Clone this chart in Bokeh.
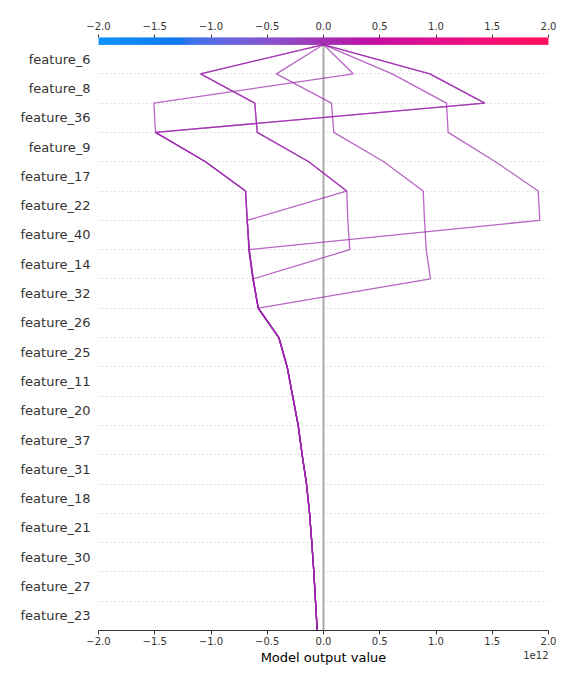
import numpy as np
from bokeh.plotting import figure
from bokeh.layouts import column
from bokeh.models import Range1d, LinearAxis, FixedTicker, CustomJSTickFormatter
from bokeh.core.properties import value
from bokeh.embed import file_html
from bokeh.resources import INLINE

# ---------------- data ----------------
# features, top to bottom
features = ["feature_6", "feature_8", "feature_36", "feature_9", "feature_17",
            "feature_22", "feature_40", "feature_14", "feature_32", "feature_26",
            "feature_25", "feature_11", "feature_20", "feature_37", "feature_31",
            "feature_18", "feature_21", "feature_30", "feature_27", "feature_23"]

base_value = 0.0
x_ticks = [-2.0, -1.5, -1.0, -0.5, 0.0, 0.5, 1.0, 1.5, 2.0]
color_min, color_max = -2.0, 2.0
scale_label = "1e12"
x_label = "Model output value"

# cumulative model output (x1e12) at each row boundary, from the bottom up.
# all observations share the lower part of the path
shared_path = [-0.056, -0.071, -0.086, -0.104, -0.124, -0.151,
               -0.190, -0.225, -0.274, -0.323, -0.397, -0.580]
# upper part (boundary above feature_32 ... top) for each observation
obs_a = [0.951, 0.913, 0.898, 0.886, 0.536, 0.092, 0.071, -0.418, 0.0]
obs_b = [-0.628, -0.664, 1.923, 1.908, 1.529, 1.108, 1.093, 0.611, 0.0]
obs_c = [-0.628, -0.664, -0.678, 0.204, -0.131, -0.589, -0.611, -1.093, 0.0]
obs_d = [-0.625, 0.234, 0.216, 0.207, -0.131, -0.589, -0.611, -1.093, 0.0]
obs_e = [-0.625, -0.660, -0.678, -0.693, -1.049, -1.493, -1.508, 0.264, 0.0]
obs_f = [-0.625, -0.660, -0.678, -0.693, -1.049, -1.493, 1.434, 0.945, 0.0]
obs_g = [-0.625, -0.660, -0.678, -0.693, -1.049, -1.493, 1.434, 0.945, 0.0]
observations = [obs_a, obs_b, obs_c, obs_d, obs_e, obs_f, obs_g]

# ---------------- shap red_blue colormap ----------------
def lch_to_rgb(l, c, h):
    a = c * np.cos(h)
    b = c * np.sin(h)
    fy = (l + 16.0) / 116.0
    fx = a / 500.0 + fy
    fz = fy - b / 200.0
    fz = max(fz, 0.0)
    out = np.array([fx, fy, fz])
    mask = out > 0.2068966
    out = np.where(mask, out ** 3, (out - 16.0 / 116.0) / 7.787)
    out = out * np.array([0.95047, 1.0, 1.08883])
    xyz_from_rgb = np.array([[0.412453, 0.357580, 0.180423],
                             [0.212671, 0.715160, 0.072169],
                             [0.019334, 0.119193, 0.950227]])
    rgb = np.linalg.inv(xyz_from_rgb) @ out
    rgb = np.where(rgb > 0.0031308,
                   1.055 * np.power(np.abs(rgb), 1 / 2.4) - 0.055,
                   rgb * 12.92)
    return np.clip(rgb, 0, 1)

nsteps = 100
blue_lch = [54.0, 70.0, 4.6588]
l_mid = 40.0
red_lch = [54.0, 90.0, 0.35470565 + 2 * np.pi]
l_vals = list(np.linspace(blue_lch[0], l_mid, nsteps // 2)) + list(np.linspace(l_mid, red_lch[0], nsteps // 2))
c_vals = np.linspace(blue_lch[1], red_lch[1], nsteps)
h_vals = np.linspace(blue_lch[2], red_lch[2], nsteps)
anchor_pos = np.linspace(0, 1, nsteps)
anchor_rgb = np.array([lch_to_rgb(l, c, h) for l, c, h in zip(l_vals, c_vals, h_vals)])

def cmap(t):
    t = np.clip(t, 0, 1)
    r = np.interp(t, anchor_pos, anchor_rgb[:, 0])
    g = np.interp(t, anchor_pos, anchor_rgb[:, 1])
    b = np.interp(t, anchor_pos, anchor_rgb[:, 2])
    return "#%02x%02x%02x" % (int(round(r * 255)), int(round(g * 255)), int(round(b * 255)))

# ---------------- main figure ----------------
n = len(features)
W = 576
H_MAIN, H_FOOT = 648, 36
xr = Range1d(color_min, color_max)
p = figure(width=W, height=H_MAIN, x_range=xr,
           y_range=Range1d(0, n + 0.24), output_backend="svg",
           toolbar_location=None, min_border_left=98, min_border_right=28,
           min_border_top=37, min_border_bottom=18)
p.outline_line_color = None
p.background_fill_color = "white"
p.border_fill_color = "white"

FONT = "DejaVu Sans"
fmt = CustomJSTickFormatter(code="return tick.toFixed(1).replace('-', '\u2212');")

# bottom axis
xa = p.xaxis[0]
xa.ticker = FixedTicker(ticks=x_ticks)
xa.formatter = fmt
xa.major_label_text_font = FONT
xa.major_label_text_font_size = "10px"
xa.major_label_text_color = "#333333"
xa.major_label_standoff = 2
xa.axis_line_color = "#333333"
xa.major_tick_line_color = "#333333"
xa.major_tick_out = 4
xa.major_tick_in = 0
xa.minor_tick_line_color = None

# top axis for the colour bar
ta = LinearAxis(ticker=FixedTicker(ticks=x_ticks), formatter=fmt)
ta.major_label_text_font = FONT
ta.major_label_text_font_size = "10px"
ta.major_label_text_color = "#333333"
ta.major_label_standoff = 5
ta.axis_line_color = None
ta.major_tick_line_color = "#333333"
ta.major_tick_out = 3
ta.major_tick_in = 0
ta.minor_tick_line_color = None
p.add_layout(ta, "above")

# left axis with feature names
ya = p.yaxis[0]
ya.ticker = FixedTicker(ticks=[i + 0.5 for i in range(n)])
ya.formatter = CustomJSTickFormatter(args=dict(names=features),
                                     code="return names[names.length - 1 - Math.floor(tick)];")
ya.major_label_text_font = FONT
ya.major_label_text_font_size = "13px"
ya.major_label_text_color = "#333333"
ya.major_label_standoff = 8
ya.axis_line_color = None
ya.major_tick_line_color = None
ya.minor_tick_line_color = None
ya.major_tick_out = 0
ya.major_tick_in = 0

# grid
p.xgrid.visible = False
p.ygrid.ticker = FixedTicker(ticks=list(range(1, n)))
p.ygrid.grid_line_color = "#c8c8c8"
p.ygrid.grid_line_dash = "1 3"
p.ygrid.grid_line_width = 1

# colour bar
nbar = 450
edges = np.linspace(color_min, color_max, nbar + 1)
bar_colors = [cmap((i + 0.5) / nbar) for i in range(nbar)]
p.quad(left=edges[:-1], right=edges[1:], bottom=n, top=n + 0.24,
       fill_color=bar_colors, line_color=bar_colors, line_width=0.5)

# base value line
p.segment(x0=[base_value], y0=[0], x1=[base_value], y1=[n], line_color="#aaaaaa", line_width=2)

# decision lines
ys = list(range(n + 1))
xs_all, ys_all, cols = [], [], []
for obs in observations:
    path = shared_path + obs
    xs_all.append(path)
    ys_all.append(ys)
    cols.append(cmap((path[-1] - color_min) / (color_max - color_min)))
p.multi_line(xs=xs_all, ys=ys_all, line_color=cols, line_width=1.3, line_alpha=0.7)

# ---------------- footer: axis title and offset text ----------------
f = figure(width=W, height=H_FOOT, x_range=xr, y_range=Range1d(0, H_FOOT),
           output_backend="svg", toolbar_location=None,
           x_axis_type=None, y_axis_type=None,
           min_border_left=98, min_border_right=28, min_border_top=0, min_border_bottom=0)
f.outline_line_color = None
f.xgrid.visible = False
f.ygrid.visible = False
f.text(x=[(color_min + color_max) / 2], y=[H_FOOT - 9], text=[x_label],
       text_align="center", text_baseline="middle", text_font=value(FONT),
       text_font_size="13px", text_color="#000000")
f.text(x=[color_max], y=[H_FOOT - 6], text=[scale_label],
       text_align="right", text_baseline="middle", text_font=value(FONT),
       text_font_size="10px", text_color="#333333")

layout = column(p, f, spacing=0)
with open("out.html", "w", encoding="utf-8") as fh:
    fh.write(file_html(layout, INLINE))
